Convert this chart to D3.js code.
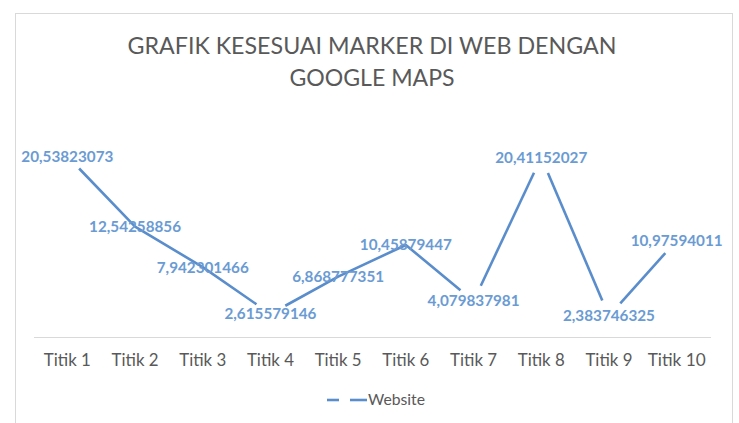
<!DOCTYPE html>
<html>
<head>
<meta charset="utf-8">
<script src="https://cdn.jsdelivr.net/npm/d3@7"></script>
<style>
  html, body { margin: 0; padding: 0; background: #fff; }
  svg { display: block; }
</style>
</head>
<body>
<svg id="chart" width="739" height="423"></svg>
<script>
// ---- data ----
const categories = ["Titik 1","Titik 2","Titik 3","Titik 4","Titik 5","Titik 6","Titik 7","Titik 8","Titik 9","Titik 10"];
const websiteValues = [20.53823073, 12.54258856, 7.942301466, 2.615579146, 6.868777351, 10.45879447, 4.079837981, 20.41152027, 2.383746325, 10.97594011];
const valueLabels = ["20,53823073","12,54258856","7,942301466","2,615579146","6,868777351","10,45879447","4,079837981","20,41152027","2,383746325","10,97594011"];
const seriesName = "Website";
const titleLines = ["GRAFIK KESESUAI MARKER DI WEB DENGAN", "GOOGLE MAPS"];

// ---- styling / layout ----
const W = 739, H = 423;
const lineColor = "#5A8DCB";
const labelColor = "#6A9BD3";
const textGray = "#595959";
const gridGray = "#D9D9D9";
const breakIdx = [0, 3, 6, 7, 8, 9]; // vertices where the drawn line is interrupted
const gap = 17;

const svg = d3.select("#chart");

// chart border
svg.append("rect")
  .attr("x", 15.5).attr("y", 13.5)
  .attr("width", 717).attr("height", 420)
  .attr("fill", "#fff").attr("stroke", gridGray).attr("stroke-width", 1);

// title
svg.append("g").selectAll("text").data(titleLines).join("text")
  .attr("x", 372).attr("y", (d, i) => 54 + i * 32)
  .attr("text-anchor", "middle")
  .attr("font-family", "Lato, 'Open Sans', sans-serif")
  .attr("font-size", 24)
  .attr("fill", textGray)
  .attr("textLength", (d, i) => i === 0 ? 489 : 165)
  .attr("lengthAdjust", "spacingAndGlyphs")
  .text(d => d);

// scales
const x = d3.scaleBand().domain(categories).range([33.5, 710.5]).padding(0);
const y = d3.scaleLinear().domain([0, 25]).range([337, 117]);
const cx = c => x(c) + x.bandwidth() / 2;

// category axis
const xAxis = d3.axisBottom(x).tickSize(0).tickPadding(16);
const gx = svg.append("g").attr("transform", `translate(0,${y(0)})`).call(xAxis);
gx.select(".domain").attr("stroke", gridGray).attr("stroke-width", 1.2);
gx.selectAll("text")
  .attr("font-family", "Lato, 'Open Sans', sans-serif")
  .attr("font-size", 18)
  .attr("fill", textGray)
  .attr("textLength", 47)
  .attr("lengthAdjust", "spacingAndGlyphs");
gx.selectAll(".tick text").filter(d => d === "Titik 10").attr("textLength", 58);

// line points
const pts = categories.map((c, i) => [cx(c), y(websiteValues[i])]);

// split into runs between break vertices, trimming near breaks
const runs = [];
let cur = [0];
for (let i = 1; i < pts.length; i++) {
  cur.push(i);
  if (breakIdx.includes(i) && i < pts.length - 1) { runs.push(cur); cur = [i]; }
}
if (cur.length > 1) runs.push(cur);

function trim(a, b, d) {
  const dx = b[0] - a[0], dy = b[1] - a[1];
  const L = Math.hypot(dx, dy);
  return [a[0] + dx * d / L, a[1] + dy * d / L];
}
const runPts = runs.map(r => {
  const p = r.map(i => pts[i].slice());
  if (breakIdx.includes(r[0])) p[0] = trim(pts[r[0]], pts[r[1]], gap);
  const n = r.length;
  if (breakIdx.includes(r[n - 1])) p[n - 1] = trim(pts[r[n - 1]], pts[r[n - 2]], gap);
  return p;
});

svg.append("g").selectAll("path").data(runPts).join("path")
  .attr("d", d3.line())
  .attr("fill", "none")
  .attr("stroke", lineColor)
  .attr("stroke-width", 2.6)
  .attr("stroke-linejoin", "round")
  .attr("stroke-linecap", "butt");

// data labels (centered on points)
svg.append("g").selectAll("text").data(categories).join("text")
  .attr("x", c => cx(c))
  .attr("y", (c, i) => y(websiteValues[i]))
  .attr("dy", "0.36em")
  .attr("text-anchor", "middle")
  .attr("font-family", "Lato, 'Open Sans', sans-serif")
  .attr("font-weight", "bold")
  .attr("font-size", 15)
  .attr("fill", labelColor)
  .attr("textLength", 92)
  .attr("lengthAdjust", "spacingAndGlyphs")
  .text((c, i) => valueLabels[i]);

// legend
const lg = svg.append("g");
lg.append("line").attr("x1", 327).attr("x2", 339).attr("y1", 400).attr("y2", 400)
  .attr("stroke", lineColor).attr("stroke-width", 2.6);
lg.append("line").attr("x1", 350).attr("x2", 367).attr("y1", 400).attr("y2", 400)
  .attr("stroke", lineColor).attr("stroke-width", 2.6);
lg.append("text").attr("x", 368).attr("y", 400).attr("dy", "0.36em")
  .attr("font-family", "Lato, 'Open Sans', sans-serif")
  .attr("font-size", 15).attr("fill", textGray)
  .attr("textLength", 57).attr("lengthAdjust", "spacingAndGlyphs")
  .text(seriesName);
</script>
</body>
</html>
